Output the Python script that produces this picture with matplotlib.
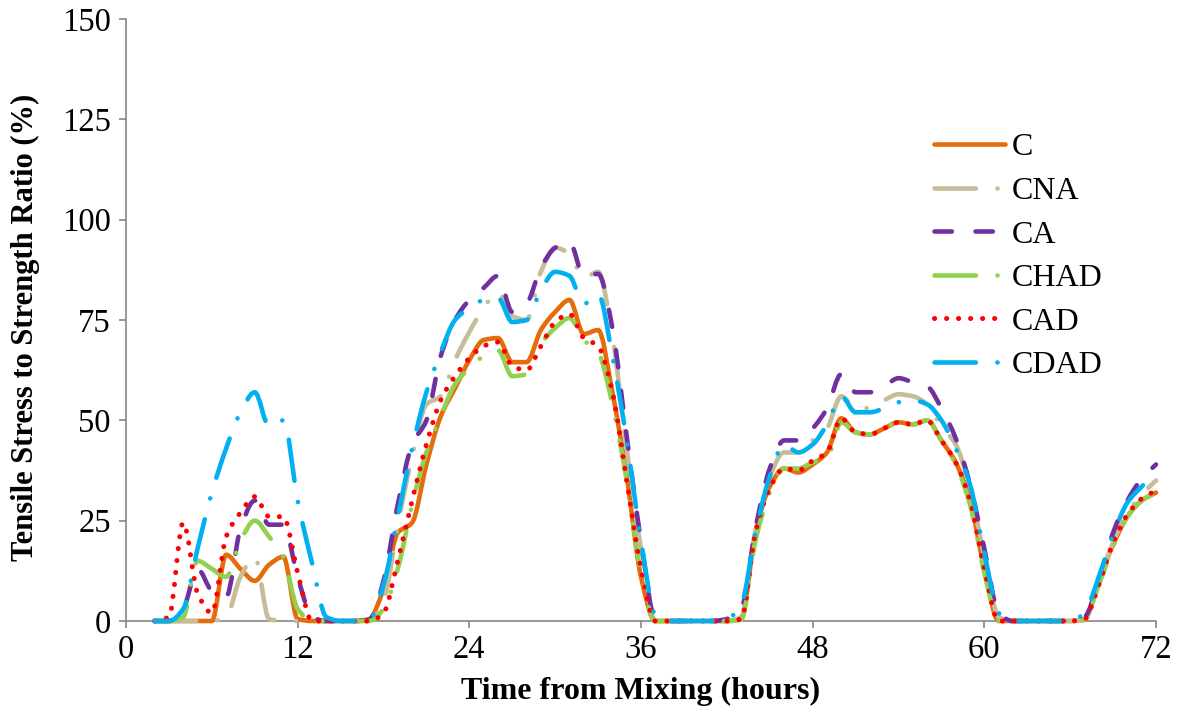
import numpy as np
import matplotlib
matplotlib.use("Agg")
import matplotlib.pyplot as plt
from matplotlib.path import Path
from matplotlib.patches import PathPatch
from matplotlib.lines import Line2D

plt.rcParams['font.family'] = ['Liberation Serif', 'DejaVu Serif']
plt.rcParams['lines.scale_dashes'] = False

# Hours after mixing (2 h to 72 h)
hours = list(range(2, 73))

# Tensile stress to strength ratio (%) for each mixture
c = [0, 0, 0, 0, 0, 16.5, 13, 10, 14, 16, 0.5, 0, 0, 0, 0, 0.5,
     8, 22, 24.5, 39, 51, 58, 65, 70, 70.5, 64.5, 64.5, 72.5, 77, 80, 71.5, 72.5, 57, 36, 11, 0,
     0, 0, 0, 0, 0, 0.5, 22, 33.5, 38, 37, 39, 42, 50.5, 47, 46.5, 48, 49.5, 49, 50, 45, 39.5, 30, 13, 0,
     0, 0, 0, 0, 0, 0.3, 10, 19, 26, 30, 32]
cna = [0, 0, 0, 0, 0, 1, 11, 16, 0.5, 0, 0, 0, 0, 0, 0, 0,
       5, 24, 41, 54, 56, 65, 72, 78, 82, 76, 75, 87, 93, 91.5, 85.5, 87, 71, 43, 18, 0,
       0, 0, 0, 0, 0, 1, 22, 36, 42, 42, 45, 48, 56, 53, 53, 55, 56.5, 56, 54, 48.5, 44, 33, 16, 1,
       0, 0, 0, 0, 0, 0.5, 10, 19.5, 27, 31.5, 35]
ca = [0, 0, 3, 13, 7.5, 6, 23, 30, 24, 24, 11, 1, 0, 0, 0, 0.3,
      10, 29, 44, 50, 66, 75, 80, 83, 86, 77, 79, 88, 93, 94.5, 86, 86.5, 73, 46, 20, 0.5,
      0, 0, 0, 0, 0.5, 3, 23, 38, 45, 45, 48, 53, 61.5, 57, 57, 58.5, 60.5, 59.5, 58.5, 53, 45.5, 34, 18, 2,
      0, 0, 0, 0, 0, 1, 10, 22, 30, 35.5, 39]
chad = [0, 0, 1, 15, 13, 11, 20, 25, 21, 16, 3, 0, 0, 0, 0, 0,
        3, 13, 29, 42, 51, 59, 63, 66, 67.5, 61, 61.5, 69, 73, 75.5, 70, 67, 54, 35, 12, 0,
        0, 0, 0, 0, 0, 0.3, 20, 32, 38, 38, 39.5, 40.5, 49.5, 47, 46.5, 48, 49.5, 49, 50, 45, 39, 29, 12, 0,
        0, 0, 0, 0, 0, 0.3, 9, 18.5, 26, 30, 32]
cad = [0, 1, 24.5, 7, 2, 21, 27, 31, 26, 26, 12, 0, 0, 0, 0, 0,
       2, 15, 30, 44, 55, 61, 65.5, 68.5, 69.5, 63.5, 62.5, 68.5, 74.5, 76.5, 70.5, 68.5, 57, 35, 13, 0,
       0, 0, 0, 0, 0, 0.5, 22, 33, 38, 37.5, 40, 42, 50.5, 47, 46.5, 48, 49.5, 49, 50, 45, 39.5, 30, 13, 0,
       0, 0, 0, 0, 0, 0.5, 9, 19.5, 26.5, 30.5, 32.5]
cdad = [0, 0, 3, 18, 32, 43, 52, 57, 48.5, 50, 30, 14.5, 1, 0, 0, 0.3,
        9, 26, 43, 57, 67, 75, 78, 80, 80.5, 74.5, 75, 82.5, 87, 86, 79, 81.5, 66, 45, 20, 1.5,
        0, 0, 0, 0, 0.5, 4, 22, 36, 44, 42, 44, 49, 56, 52, 52, 53, 54.5, 55, 54, 50, 43, 34, 17, 2,
        0, 0, 0, 0, 0, 2, 11, 21.5, 29.5, 33.5, 37]

labels = ['C', 'CNA', 'CA', 'CHAD', 'CAD', 'CDAD']
series = [c, cna, ca, chad, cad, cdad]

x_ticks = [0, 12, 24, 36, 48, 60, 72]
y_ticks = [0, 25, 50, 75, 100, 125, 150]

# line styles (dash lengths in points)
lw = 3.3
long_dash_dot = (0, (29.8, 15.5, 0.1, 15.5))
styles = [
    dict(color='#E46C0A', lw=lw, ls='-'),
    dict(color='#C4BD97', lw=lw, ls=long_dash_dot),
    dict(color='#7030A0', lw=lw, ls=(0, (12.5, 17.0))),
    dict(color='#92D050', lw=lw, ls=long_dash_dot),
    dict(color='#FF0000', lw=3.6, ls=(0, (0.1, 8.55))),
    dict(color='#00B0F0', lw=lw, ls=long_dash_dot),
]


def smooth_path(x, y):
    """Monotone cubic Bezier path through the data points."""
    x = np.asarray(x, float)
    y = np.asarray(y, float)
    h = np.diff(x)
    d = np.diff(y) / h
    m = np.zeros_like(y)
    m[0], m[-1] = d[0], d[-1]
    for i in range(1, len(y) - 1):
        if d[i - 1] * d[i] > 0:
            m[i] = 2 * d[i - 1] * d[i] / (d[i - 1] + d[i])
    verts = [(x[0], y[0])]
    codes = [Path.MOVETO]
    for i in range(len(h)):
        verts += [(x[i] + h[i] / 3, y[i] + m[i] * h[i] / 3),
                  (x[i + 1] - h[i] / 3, y[i + 1] - m[i + 1] * h[i] / 3),
                  (x[i + 1], y[i + 1])]
        codes += [Path.CURVE4] * 3
    return Path(verts, codes)


fig = plt.figure(figsize=(11.78, 7.10), dpi=100)
ax = fig.add_axes([126 / 1178, 1 - 621 / 710, 1030 / 1178, 602 / 710])

handles = []
for vals, st in zip(series, styles):
    patch = PathPatch(smooth_path(hours, vals), fill=False, edgecolor=st['color'],
                      lw=st['lw'], linestyle=st['ls'], capstyle='round',
                      joinstyle='round', zorder=3, clip_on=False)
    ax.add_patch(patch)
    handles.append(Line2D([], [], color=st['color'], lw=st['lw'], linestyle=st['ls'],
                          dash_capstyle='round', solid_capstyle='round'))

ax.set_xlim(0, 72)
ax.set_ylim(0, 150)
ax.set_xticks(x_ticks)
ax.set_yticks(y_ticks)

for side in ('top', 'right'):
    ax.spines[side].set_visible(False)
for side in ('left', 'bottom'):
    ax.spines[side].set_color('#868686')
    ax.spines[side].set_linewidth(1.2)
    ax.spines[side].set_zorder(2)

ax.tick_params(axis='both', direction='out', length=5, width=1.2, color='#868686',
               labelsize=23.5, labelcolor='black')
ax.tick_params(axis='y', pad=6)
ax.tick_params(axis='x', pad=5)

ax.set_xlabel('Time from Mixing (hours)', fontsize=23, fontweight='bold')
ax.xaxis.set_label_coords(0.5, -(699 - 621) / 602)
ax.xaxis.label.set_verticalalignment('baseline')
ax.set_ylabel('Tensile Stress to Strength Ratio (%)', fontsize=22, fontweight='bold')
ax.yaxis.set_label_coords(-(126 - 25) / 1030, (621 - 327) / 602)
ax.yaxis.label.set_verticalalignment('center')

ax.legend(handles, labels, loc='upper left', bbox_to_anchor=(934 / 1178, 1 - 133 / 710),
          bbox_transform=fig.transFigure, frameon=False, fontsize=23,
          handlelength=2.22, handletextpad=0.22, labelspacing=0.445,
          borderpad=0, borderaxespad=0)

fig.savefig('out.png', dpi=100)
